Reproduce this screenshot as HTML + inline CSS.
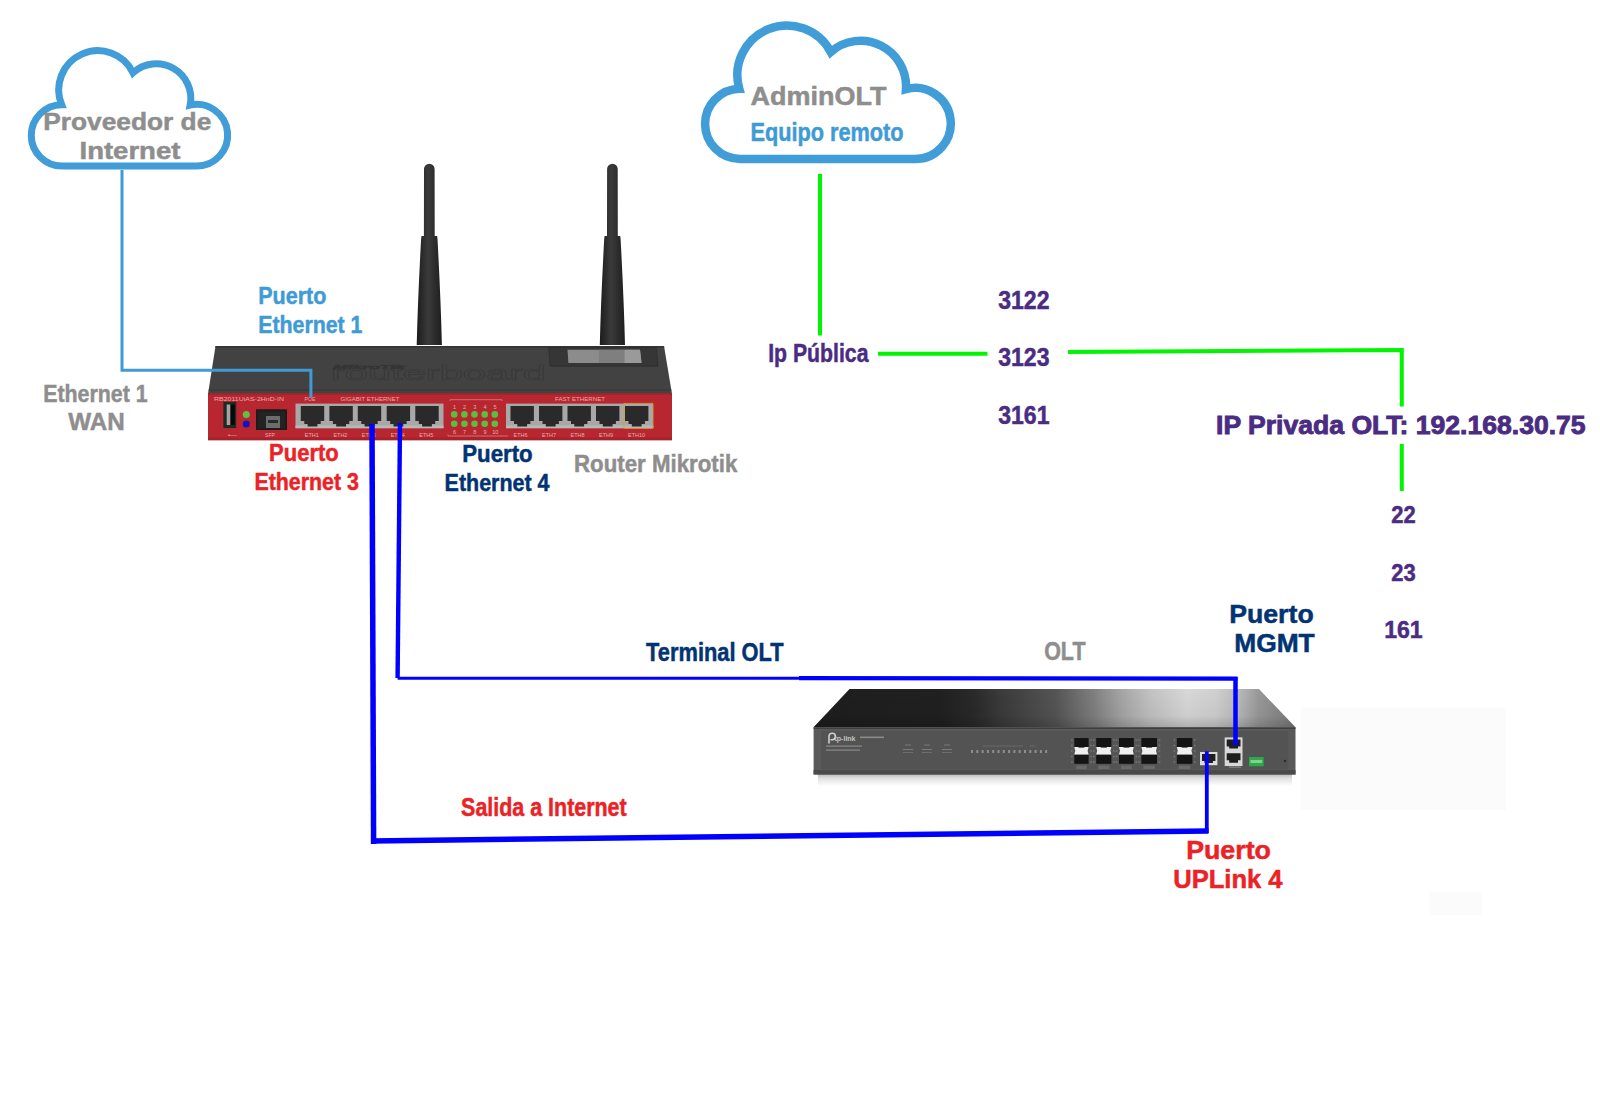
<!DOCTYPE html>
<html><head><meta charset="utf-8">
<style>
html,body{margin:0;padding:0;background:#fff;width:1600px;height:1100px;overflow:hidden}
svg{position:absolute;left:0;top:0;display:block}
text{font-family:"Liberation Sans",sans-serif;font-weight:bold}
.g{fill:#8e8e8e;stroke:#8e8e8e}.b{fill:#3f9bd6;stroke:#3f9bd6}.r{fill:#eb2226;stroke:#eb2226}.n{fill:#023372;stroke:#023372}.p{fill:#4a2c82;stroke:#4a2c82}
text.g,text.b,text.r,text.n,text.p{stroke-width:0.5}
</style></head>
<body>
<svg width="1600" height="1100" viewBox="0 0 1600 1100">
<defs>
<linearGradient id="ant" x1="0" x2="1" y1="0" y2="0">
<stop offset="0" stop-color="#1c1c1c"/><stop offset="0.45" stop-color="#3a3a3a"/><stop offset="1" stop-color="#1e1e1e"/>
</linearGradient>
<linearGradient id="oltTop" gradientUnits="userSpaceOnUse" x1="813" y1="0" x2="1296" y2="0">
<stop offset="0" stop-color="#1e1e1e"/><stop offset="0.263" stop-color="#202020"/><stop offset="0.335" stop-color="#2a2a2a"/><stop offset="0.387" stop-color="#3a3a3a"/><stop offset="0.503" stop-color="#555555"/><stop offset="0.582" stop-color="#808080"/><stop offset="0.64" stop-color="#a6a6a6"/><stop offset="0.698" stop-color="#c2c2c2"/><stop offset="0.774" stop-color="#d8d8d8"/><stop offset="0.834" stop-color="#d0d0d0"/><stop offset="0.884" stop-color="#b8b8b8"/><stop offset="0.923" stop-color="#999999"/><stop offset="1" stop-color="#7a7a7a"/>
</linearGradient>
<linearGradient id="oltTopV" x1="0" x2="0" y1="0" y2="1">
<stop offset="0" stop-color="#000" stop-opacity="0"/><stop offset="0.7" stop-color="#000" stop-opacity="0.05"/><stop offset="1" stop-color="#000" stop-opacity="0.18"/>
</linearGradient>
<linearGradient id="oltShadow" x1="0" x2="0" y1="0" y2="1">
<stop offset="0" stop-color="#b8b8b8"/><stop offset="0.35" stop-color="#e0e0e0"/><stop offset="1" stop-color="#fff"/>
</linearGradient>
</defs>
<!-- clouds -->
<path d="M62.20,166.00 A30.60,30.60 0 0 1 61.65,104.70 A39.10,39.10 0 0 1 132.98,72.74 A34.60,34.60 0 0 1 190.14,105.14 A30.80,30.80 0 1 1 196.40,166.00 Z" fill="none" stroke="#419dd7" stroke-width="7.0"/>
<path d="M740.10,158.95 A35.05,35.05 0 0 1 739.30,88.86 A49.55,49.55 0 0 1 830.71,51.96 A45.45,45.45 0 0 1 905.95,89.19 A35.50,35.50 0 1 1 915.25,158.95 Z" fill="none" stroke="#419dd7" stroke-width="8.5"/>


<!-- router -->
<g id="router">
<path d="M424.0,169 A5.3,5.3 0 0 1 434.6,169 L434.7,236 L437.1,236 L437.5,239 Q440.8,300 441.9,345 L416.7,345 Q417.8,300 421.1,239 L421.5,236 L423.9,236 Z" fill="url(#ant)"/>
<path d="M607.1,169 A5.3,5.3 0 0 1 617.7,169 L617.8,236 L620.2,236 L620.6,239 Q623.9,300 625.0,345 L599.8,345 Q600.9,300 604.2,239 L604.6,236 L607.0,236 Z" fill="url(#ant)"/>
<path d="M215.5,346 L664,346 L672,394 L208,394 Z" fill="#424242"/>
<path d="M215.5,346 L664,346 L664.3,347.5 L215.3,347.5 Z" fill="#333"/>
<path d="M208.8,389.5 L671.3,389.5 L671.5,390.7 L208.6,390.7 Z" fill="#383838"/>
<path d="M548.7,347.5 L656.5,347.5 L658,366.2 L550,366.2 Z" fill="#363636" stroke="#2e2e2e" stroke-width="0.8"/>
<path d="M567.5,349.8 L640,349.8 L641.5,363 L568.4,363 Z" fill="#8c8c8c"/>
<rect x="598.9" y="349.8" width="25.8" height="13.2" fill="#7f7f7f"/><path d="M624.7,349.8 L640,349.8 L641.5,363 L624.7,363 Z" fill="#9a9a9a"/>
<text x="331" y="379.5" font-size="21" textLength="215" lengthAdjust="spacingAndGlyphs" style="font-weight:normal" fill="#444" stroke="#393939" stroke-width="0.7">routerboard</text>
<text x="333" y="369" font-size="5.5" textLength="72" lengthAdjust="spacingAndGlyphs" font-style="italic" fill="#3a3a3a" stroke="#343434" stroke-width="0.5">MikroTik</text>
<rect x="208" y="393.5" width="464" height="46.7" fill="#b8272f"/>
<rect x="208" y="393.5" width="464" height="1.5" fill="#a92029"/>
<rect x="208" y="437.5" width="464" height="2.7" fill="#a6232b"/>
<rect x="223.4" y="401.9" width="12.8" height="26.1" fill="#1e2a22"/>
<rect x="226.7" y="404.5" width="3.8" height="20.5" fill="#a5a5a5"/>
<rect x="230.5" y="404.5" width="4.2" height="20.5" fill="#080808"/>
<circle cx="246.3" cy="414.6" r="3.5" fill="#5fbf45"/>
<circle cx="246.3" cy="424.1" r="3.5" fill="#1212c0"/>
<rect x="256" y="409.3" width="31" height="20.7" fill="#1c1c1c"/>
<rect x="258" y="411.5" width="27" height="16.5" fill="#232323"/>
<rect x="266" y="416" width="14" height="12" fill="#6c6c6c"/>
<rect x="268" y="420" width="10" height="3" fill="#2a2a2a"/>
<rect x="295.5" y="403.6" width="148" height="24.6" fill="#a8a8a8"/>
<rect x="295.5" y="425.5" width="148" height="2.7" fill="#b8b8b8"/>
<rect x="506" y="403.6" width="147.4" height="24.6" fill="#a8a8a8"/>
<rect x="506" y="425.5" width="147.4" height="2.7" fill="#b8b8b8"/>
<path d="M300.8,406 h23.4 v15 h-3.5 v3 h-3.3 v2.6 h-9.8 v-2.6 h-3.3 v-3 h-3.5 Z" fill="#2a2a2a"/>
<path d="M329.4,406 h23.4 v15 h-3.5 v3 h-3.3 v2.6 h-9.8 v-2.6 h-3.3 v-3 h-3.5 Z" fill="#2a2a2a"/>
<path d="M357.8,406 h23.4 v15 h-3.5 v3 h-3.3 v2.6 h-9.8 v-2.6 h-3.3 v-3 h-3.5 Z" fill="#2a2a2a"/>
<path d="M386.7,406 h23.4 v15 h-3.5 v3 h-3.3 v2.6 h-9.8 v-2.6 h-3.3 v-3 h-3.5 Z" fill="#2a2a2a"/>
<path d="M415.3,406 h23.4 v15 h-3.5 v3 h-3.3 v2.6 h-9.8 v-2.6 h-3.3 v-3 h-3.5 Z" fill="#2a2a2a"/>
<path d="M510.5,406 h23.4 v15 h-3.5 v3 h-3.3 v2.6 h-9.8 v-2.6 h-3.3 v-3 h-3.5 Z" fill="#2a2a2a"/>
<path d="M539.0,406 h23.4 v15 h-3.5 v3 h-3.3 v2.6 h-9.8 v-2.6 h-3.3 v-3 h-3.5 Z" fill="#2a2a2a"/>
<path d="M567.5,406 h23.4 v15 h-3.5 v3 h-3.3 v2.6 h-9.8 v-2.6 h-3.3 v-3 h-3.5 Z" fill="#2a2a2a"/>
<path d="M596.0,406 h23.4 v15 h-3.5 v3 h-3.3 v2.6 h-9.8 v-2.6 h-3.3 v-3 h-3.5 Z" fill="#2a2a2a"/>
<path d="M625.0,406 h23.4 v15 h-3.5 v3 h-3.3 v2.6 h-9.8 v-2.6 h-3.3 v-3 h-3.5 Z" fill="#2a2a2a"/>
<rect x="624" y="403.3" width="28.5" height="25" fill="none" stroke="#d8a028" stroke-width="0.8"/>
<circle cx="454.2" cy="414.4" r="3.3" fill="#5cbd43"/><circle cx="454.2" cy="423.7" r="3.3" fill="#5cbd43"/>
<circle cx="464.4" cy="414.4" r="3.3" fill="#5cbd43"/><circle cx="464.4" cy="423.7" r="3.3" fill="#5cbd43"/>
<circle cx="474.5" cy="414.4" r="3.3" fill="#5cbd43"/><circle cx="474.5" cy="423.7" r="3.3" fill="#5cbd43"/>
<circle cx="484.7" cy="414.4" r="3.3" fill="#5cbd43"/><circle cx="484.7" cy="423.7" r="3.3" fill="#5cbd43"/>
<circle cx="494.8" cy="414.4" r="3.3" fill="#5cbd43"/><circle cx="494.8" cy="423.7" r="3.3" fill="#5cbd43"/>
<text x="214" y="400.5" fill="#e7aaae" font-size="5.6" style="font-weight:normal" textLength="70" lengthAdjust="spacingAndGlyphs">RB2011UiAS-2HnD-IN</text>
<text x="304.5" y="400.5" fill="#e7aaae" font-size="5.6" style="font-weight:normal" textLength="11" lengthAdjust="spacingAndGlyphs">POE</text>
<text x="340.5" y="400.5" fill="#e7aaae" font-size="5.6" style="font-weight:normal" textLength="59" lengthAdjust="spacingAndGlyphs">GIGABIT ETHERNET</text>
<text x="555" y="400.5" fill="#e7aaae" font-size="5.6" style="font-weight:normal" textLength="50" lengthAdjust="spacingAndGlyphs">FAST ETHERNET</text>
<text x="304.8" y="437" fill="#e7aaae" font-size="5.6" style="font-weight:normal" textLength="14" lengthAdjust="spacingAndGlyphs">ETH1</text>
<text x="333.4" y="437" fill="#e7aaae" font-size="5.6" style="font-weight:normal" textLength="14" lengthAdjust="spacingAndGlyphs">ETH2</text>
<text x="361.8" y="437" fill="#e7aaae" font-size="5.6" style="font-weight:normal" textLength="14" lengthAdjust="spacingAndGlyphs">ETH3</text>
<text x="390.7" y="437" fill="#e7aaae" font-size="5.6" style="font-weight:normal" textLength="14" lengthAdjust="spacingAndGlyphs">ETH4</text>
<text x="419.3" y="437" fill="#e7aaae" font-size="5.6" style="font-weight:normal" textLength="14" lengthAdjust="spacingAndGlyphs">ETH5</text>
<text x="513.5" y="437" fill="#e7aaae" font-size="5.6" style="font-weight:normal" textLength="14" lengthAdjust="spacingAndGlyphs">ETH6</text>
<text x="542.0" y="437" fill="#e7aaae" font-size="5.6" style="font-weight:normal" textLength="14" lengthAdjust="spacingAndGlyphs">ETH7</text>
<text x="570.5" y="437" fill="#e7aaae" font-size="5.6" style="font-weight:normal" textLength="14" lengthAdjust="spacingAndGlyphs">ETH8</text>
<text x="599.0" y="437" fill="#e7aaae" font-size="5.6" style="font-weight:normal" textLength="14" lengthAdjust="spacingAndGlyphs">ETH9</text>
<text x="628.0" y="437" fill="#e7aaae" font-size="5.6" style="font-weight:normal" textLength="17" lengthAdjust="spacingAndGlyphs">ETH10</text>
<text x="228" y="437" fill="#e7aaae" font-size="5.6" style="font-weight:normal" textLength="9" lengthAdjust="spacingAndGlyphs">&#8226;&#8212;</text>
<text x="265" y="437" fill="#e7aaae" font-size="5.6" style="font-weight:normal" textLength="10" lengthAdjust="spacingAndGlyphs">SFP</text>
<text x="452.9" y="409.2" fill="#e7aaae" font-size="5.6" style="font-weight:normal">1</text>
<text x="452.9" y="433.5" fill="#e7aaae" font-size="5.6" style="font-weight:normal">6</text>
<text x="463.1" y="409.2" fill="#e7aaae" font-size="5.6" style="font-weight:normal">2</text>
<text x="463.1" y="433.5" fill="#e7aaae" font-size="5.6" style="font-weight:normal">7</text>
<text x="473.2" y="409.2" fill="#e7aaae" font-size="5.6" style="font-weight:normal">3</text>
<text x="473.2" y="433.5" fill="#e7aaae" font-size="5.6" style="font-weight:normal">8</text>
<text x="483.4" y="409.2" fill="#e7aaae" font-size="5.6" style="font-weight:normal">4</text>
<text x="483.4" y="433.5" fill="#e7aaae" font-size="5.6" style="font-weight:normal">9</text>
<text x="493.5" y="409.2" fill="#e7aaae" font-size="5.6" style="font-weight:normal">5</text>
<text x="492.2" y="433.5" fill="#e7aaae" font-size="5.6" style="font-weight:normal">10</text>
<path d="M450,401 V399.7 H502 V401" fill="none" stroke="#e0a0a4" stroke-width="0.6"/>
<path d="M448,434.5 V436 H508" fill="none" stroke="#e0a0a4" stroke-width="0.6"/>
</g>
<!-- OLT -->
<rect x="1300.7" y="707.5" width="205" height="102.5" fill="#fbfbfb"/>
<rect x="1429.5" y="891.8" width="52.3" height="23" fill="#fbfbfb"/>
<g id="olt">
<rect x="818" y="774" width="474" height="12" fill="url(#oltShadow)"/>
<path d="M849.5,689 L1259,689 L1295.5,727.3 L813.6,727.3 Z" fill="url(#oltTop)"/>
<path d="M849.5,689 L1259,689 L1295.5,727.3 L813.6,727.3 Z" fill="url(#oltTopV)"/>
<rect x="813.6" y="727.3" width="481.9" height="47.2" fill="#5a5a5a"/>
<rect x="813.6" y="727.3" width="481.9" height="1.6" fill="#3f3f3f"/>
<rect x="820.6" y="730.6" width="468" height="39" fill="#535353" stroke="#5e5e5e" stroke-width="0.6"/>
<rect x="813.6" y="770" width="481.9" height="4.5" fill="#4a4a4a"/>
<path d="M829,743.5 V736.5 A3.2,3.2 0 1 1 832.2,739.7 H830.5" fill="none" stroke="#cfcfcf" stroke-width="1.6"/><text x="834.5" y="741.2" font-size="6.5" fill="#c4c4c4" textLength="21" lengthAdjust="spacingAndGlyphs">tp-link</text>
<rect x="860" y="736.5" width="24" height="1.6" fill="#8a8a8a"/>
<rect x="826" y="745.5" width="36" height="1.2" fill="#8a8a8a"/>
<rect x="826" y="749.5" width="34" height="1.2" fill="#8a8a8a"/>
<rect x="905" y="744.5" width="6" height="1" fill="#7a7a7a"/>
<rect x="903" y="749" width="10" height="1" fill="#7a7a7a"/>
<rect x="903" y="752" width="10" height="1" fill="#6e6e6e"/>
<rect x="924" y="744.5" width="6" height="1" fill="#7a7a7a"/>
<rect x="922" y="749" width="10" height="1" fill="#7a7a7a"/>
<rect x="922" y="752" width="10" height="1" fill="#6e6e6e"/>
<rect x="944" y="744.5" width="6" height="1" fill="#7a7a7a"/>
<rect x="942" y="749" width="10" height="1" fill="#7a7a7a"/>
<rect x="942" y="752" width="10" height="1" fill="#6e6e6e"/>
<path d="M983,746 H1023 M1030,746 H1035" stroke="#777" stroke-width="0.6"/>
<rect x="971.0" y="750" width="2" height="3" fill="#8e8e8e"/>
<rect x="976.3" y="750" width="2" height="3" fill="#8e8e8e"/>
<rect x="981.6" y="750" width="2" height="3" fill="#8e8e8e"/>
<rect x="986.9" y="750" width="2" height="3" fill="#8e8e8e"/>
<rect x="992.2" y="750" width="2" height="3" fill="#8e8e8e"/>
<rect x="997.5" y="750" width="2" height="3" fill="#8e8e8e"/>
<rect x="1002.8" y="750" width="2" height="3" fill="#8e8e8e"/>
<rect x="1008.1" y="750" width="2" height="3" fill="#8e8e8e"/>
<rect x="1013.4" y="750" width="2" height="3" fill="#8e8e8e"/>
<rect x="1018.7" y="750" width="2" height="3" fill="#8e8e8e"/>
<rect x="1024.0" y="750" width="2" height="3" fill="#8e8e8e"/>
<rect x="1029.3" y="750" width="2" height="3" fill="#8e8e8e"/>
<rect x="1034.6" y="750" width="2" height="3" fill="#8e8e8e"/>
<rect x="1039.9" y="750" width="2" height="3" fill="#8e8e8e"/>
<rect x="1045.2" y="750" width="2" height="3" fill="#8e8e8e"/>
<rect x="1070.3" y="736.5" width="22.3" height="29" fill="#555"/>
<rect x="1071.1" y="739.3" width="1.5" height="1.4" fill="#7a7a7a"/>
<rect x="1090.3" y="739.3" width="1.5" height="1.4" fill="#7a7a7a"/>
<rect x="1071.1" y="744.8" width="1.5" height="1.4" fill="#7a7a7a"/>
<rect x="1090.3" y="744.8" width="1.5" height="1.4" fill="#7a7a7a"/>
<rect x="1071.1" y="750.3" width="1.5" height="1.4" fill="#7a7a7a"/>
<rect x="1090.3" y="750.3" width="1.5" height="1.4" fill="#7a7a7a"/>
<rect x="1071.1" y="755.8" width="1.5" height="1.4" fill="#7a7a7a"/>
<rect x="1090.3" y="755.8" width="1.5" height="1.4" fill="#7a7a7a"/>
<rect x="1071.1" y="761.3" width="1.5" height="1.4" fill="#7a7a7a"/>
<rect x="1090.3" y="761.3" width="1.5" height="1.4" fill="#7a7a7a"/>
<rect x="1074.3" y="738" width="14.3" height="9" fill="#141414"/>
<rect x="1074.3" y="754.5" width="14.3" height="9.3" fill="#141414"/>
<path d="M1074.3,747 H1088.6 L1087.6,750.7 L1088.6,754.5 H1074.3 L1075.3,750.7 Z" fill="#efefef"/>
<rect x="1078.4" y="746" width="6" height="1.6" fill="#141414"/>
<rect x="1076.3" y="765.5" width="10.3" height="3.5" fill="#6a6a6a"/>
<rect x="1092.2" y="736.5" width="23.2" height="29" fill="#555"/>
<rect x="1093.0" y="739.3" width="1.5" height="1.4" fill="#7a7a7a"/>
<rect x="1113.1" y="739.3" width="1.5" height="1.4" fill="#7a7a7a"/>
<rect x="1093.0" y="744.8" width="1.5" height="1.4" fill="#7a7a7a"/>
<rect x="1113.1" y="744.8" width="1.5" height="1.4" fill="#7a7a7a"/>
<rect x="1093.0" y="750.3" width="1.5" height="1.4" fill="#7a7a7a"/>
<rect x="1113.1" y="750.3" width="1.5" height="1.4" fill="#7a7a7a"/>
<rect x="1093.0" y="755.8" width="1.5" height="1.4" fill="#7a7a7a"/>
<rect x="1113.1" y="755.8" width="1.5" height="1.4" fill="#7a7a7a"/>
<rect x="1093.0" y="761.3" width="1.5" height="1.4" fill="#7a7a7a"/>
<rect x="1113.1" y="761.3" width="1.5" height="1.4" fill="#7a7a7a"/>
<rect x="1096.2" y="738" width="15.2" height="9" fill="#141414"/>
<rect x="1096.2" y="754.5" width="15.2" height="9.3" fill="#141414"/>
<path d="M1096.2,747 H1111.4 L1110.4,750.7 L1111.4,754.5 H1096.2 L1097.2,750.7 Z" fill="#efefef"/>
<rect x="1100.8" y="746" width="6" height="1.6" fill="#141414"/>
<rect x="1098.2" y="765.5" width="11.2" height="3.5" fill="#6a6a6a"/>
<rect x="1115.0" y="736.5" width="22.8" height="29" fill="#555"/>
<rect x="1115.8" y="739.3" width="1.5" height="1.4" fill="#7a7a7a"/>
<rect x="1135.5" y="739.3" width="1.5" height="1.4" fill="#7a7a7a"/>
<rect x="1115.8" y="744.8" width="1.5" height="1.4" fill="#7a7a7a"/>
<rect x="1135.5" y="744.8" width="1.5" height="1.4" fill="#7a7a7a"/>
<rect x="1115.8" y="750.3" width="1.5" height="1.4" fill="#7a7a7a"/>
<rect x="1135.5" y="750.3" width="1.5" height="1.4" fill="#7a7a7a"/>
<rect x="1115.8" y="755.8" width="1.5" height="1.4" fill="#7a7a7a"/>
<rect x="1135.5" y="755.8" width="1.5" height="1.4" fill="#7a7a7a"/>
<rect x="1115.8" y="761.3" width="1.5" height="1.4" fill="#7a7a7a"/>
<rect x="1135.5" y="761.3" width="1.5" height="1.4" fill="#7a7a7a"/>
<rect x="1119.0" y="738" width="14.8" height="9" fill="#141414"/>
<rect x="1119.0" y="754.5" width="14.8" height="9.3" fill="#141414"/>
<path d="M1119.0,747 H1133.8 L1132.8,750.7 L1133.8,754.5 H1119.0 L1120.0,750.7 Z" fill="#efefef"/>
<rect x="1123.4" y="746" width="6" height="1.6" fill="#141414"/>
<rect x="1121.0" y="765.5" width="10.8" height="3.5" fill="#6a6a6a"/>
<rect x="1137.4" y="736.5" width="23.6" height="29" fill="#555"/>
<rect x="1138.2" y="739.3" width="1.5" height="1.4" fill="#7a7a7a"/>
<rect x="1158.7" y="739.3" width="1.5" height="1.4" fill="#7a7a7a"/>
<rect x="1138.2" y="744.8" width="1.5" height="1.4" fill="#7a7a7a"/>
<rect x="1158.7" y="744.8" width="1.5" height="1.4" fill="#7a7a7a"/>
<rect x="1138.2" y="750.3" width="1.5" height="1.4" fill="#7a7a7a"/>
<rect x="1158.7" y="750.3" width="1.5" height="1.4" fill="#7a7a7a"/>
<rect x="1138.2" y="755.8" width="1.5" height="1.4" fill="#7a7a7a"/>
<rect x="1158.7" y="755.8" width="1.5" height="1.4" fill="#7a7a7a"/>
<rect x="1138.2" y="761.3" width="1.5" height="1.4" fill="#7a7a7a"/>
<rect x="1158.7" y="761.3" width="1.5" height="1.4" fill="#7a7a7a"/>
<rect x="1141.4" y="738" width="15.6" height="9" fill="#141414"/>
<rect x="1141.4" y="754.5" width="15.6" height="9.3" fill="#141414"/>
<path d="M1141.4,747 H1157.0 L1156.0,750.7 L1157.0,754.5 H1141.4 L1142.4,750.7 Z" fill="#efefef"/>
<rect x="1146.2" y="746" width="6" height="1.6" fill="#141414"/>
<rect x="1143.4" y="765.5" width="11.6" height="3.5" fill="#6a6a6a"/>
<rect x="1172.8" y="736.5" width="23.6" height="29" fill="#555"/>
<rect x="1173.6" y="739.3" width="1.5" height="1.4" fill="#7a7a7a"/>
<rect x="1194.1" y="739.3" width="1.5" height="1.4" fill="#7a7a7a"/>
<rect x="1173.6" y="744.8" width="1.5" height="1.4" fill="#7a7a7a"/>
<rect x="1194.1" y="744.8" width="1.5" height="1.4" fill="#7a7a7a"/>
<rect x="1173.6" y="750.3" width="1.5" height="1.4" fill="#7a7a7a"/>
<rect x="1194.1" y="750.3" width="1.5" height="1.4" fill="#7a7a7a"/>
<rect x="1173.6" y="755.8" width="1.5" height="1.4" fill="#7a7a7a"/>
<rect x="1194.1" y="755.8" width="1.5" height="1.4" fill="#7a7a7a"/>
<rect x="1173.6" y="761.3" width="1.5" height="1.4" fill="#7a7a7a"/>
<rect x="1194.1" y="761.3" width="1.5" height="1.4" fill="#7a7a7a"/>
<rect x="1176.8" y="738" width="15.6" height="9" fill="#141414"/>
<rect x="1176.8" y="754.5" width="15.6" height="9.3" fill="#141414"/>
<path d="M1176.8,747 H1192.4 L1191.4,750.7 L1192.4,754.5 H1176.8 L1177.8,750.7 Z" fill="#efefef"/>
<rect x="1181.6" y="746" width="6" height="1.6" fill="#141414"/>
<rect x="1178.8" y="765.5" width="11.6" height="3.5" fill="#6a6a6a"/>
<rect x="1200" y="752" width="17.4" height="13.2" fill="#dcdcdc"/>
<path d="M1202,754 h13.4 v7 h-2.5 v2 h-8.4 v-2 h-2.5 Z" fill="#1e1e1e"/>
<rect x="1224.7" y="737.4" width="17.8" height="28.6" fill="#d8d8d8"/>
<path d="M1226.7,739.6 h13.8 v7 h-2.5 v2 h-8.8 v-2 h-2.5 Z" fill="#1e1e1e"/>
<path d="M1226.7,753.2 h13.8 v7 h-2.5 v2.5 h-8.8 v-2.5 h-2.5 Z" fill="#1e1e1e"/>
<rect x="1229" y="766.5" width="12" height="1.2" fill="#8a8a8a"/>
<rect x="1249" y="757" width="14.7" height="9.3" fill="#2da84a"/>
<rect x="1250.5" y="760" width="11.7" height="3" fill="#7ad48a"/>
<circle cx="1285" cy="761" r="1.2" fill="#2a2a2a"/>
</g>

<!-- thin blue line ISP -> eth1 -->
<path d="M122,170 V370.2 H310.9 V397.7" fill="none" stroke="#3f9bd6" stroke-width="3"/>
<!-- green lines -->
<g stroke="#00f500" stroke-width="4" fill="none">
<path d="M820,174 V335.5"/>
<path d="M878,353.75 H987.5"/>
<path d="M1068,351.9 L1401.8,349.9 V406.6"/>
<path d="M1401.8,444 V491"/>
</g>

<!-- thick blue lines -->
<g stroke="#0000ff" fill="none">
<path d="M400,423 L397.6,678" stroke-width="4.4"/>
<path d="M397.6,678.2 L799,678.2" stroke-width="3"/>
<path d="M799,678.2 L1237.5,678.6" stroke-width="4.2"/>
<path d="M1235.5,677 V745" stroke-width="4.5"/>
<path d="M372,424 L373.6,844" stroke-width="5.5"/>
<path d="M371,841 L1208.5,831" stroke-width="5.5"/>
<path d="M1206.8,833 V751.3" stroke-width="3.8"/>
</g>

<!-- texts -->
<text class="g" x="43.2" y="130.4" font-size="24.8" textLength="168.1" lengthAdjust="spacingAndGlyphs">Proveedor de</text>
<text class="g" x="79.5" y="159.0" font-size="24.8" textLength="100.9" lengthAdjust="spacingAndGlyphs">Internet</text>
<text class="g" x="750.5" y="105.1" font-size="26.7" textLength="136.0" lengthAdjust="spacingAndGlyphs">AdminOLT</text>
<text class="b" x="750.4" y="140.7" font-size="25.7" textLength="153.2" lengthAdjust="spacingAndGlyphs">Equipo remoto</text>
<text class="b" x="258.2" y="303.8" font-size="24.8" textLength="68.2" lengthAdjust="spacingAndGlyphs">Puerto</text>
<text class="b" x="258.2" y="333.2" font-size="24.8" textLength="104.3" lengthAdjust="spacingAndGlyphs">Ethernet 1</text>
<text class="g" x="43.2" y="402.1" font-size="24.8" textLength="104.5" lengthAdjust="spacingAndGlyphs">Ethernet 1</text>
<text class="g" x="68.2" y="429.8" font-size="24.8" textLength="56.5" lengthAdjust="spacingAndGlyphs">WAN</text>
<text class="r" x="269.1" y="460.5" font-size="24.8" textLength="69.6" lengthAdjust="spacingAndGlyphs">Puerto</text>
<text class="r" x="254.4" y="489.8" font-size="24.8" textLength="104.5" lengthAdjust="spacingAndGlyphs">Ethernet 3</text>
<text class="n" x="462.2" y="461.8" font-size="24.8" textLength="70.5" lengthAdjust="spacingAndGlyphs">Puerto</text>
<text class="n" x="444.6" y="490.8" font-size="24.8" textLength="104.9" lengthAdjust="spacingAndGlyphs">Ethernet 4</text>
<text class="g" x="574.0" y="471.5" font-size="24.8" textLength="163.3" lengthAdjust="spacingAndGlyphs">Router Mikrotik</text>
<text class="p" x="768.2" y="361.8" font-size="25.5" textLength="100.3" lengthAdjust="spacingAndGlyphs">Ip Pública</text>
<text class="p" x="998.2" y="309.1" font-size="25.3" textLength="51.3" lengthAdjust="spacingAndGlyphs">3122</text>
<text class="p" x="998.2" y="365.8" font-size="25.3" textLength="51.3" lengthAdjust="spacingAndGlyphs">3123</text>
<text class="p" x="998.2" y="424.1" font-size="25.3" textLength="51.3" lengthAdjust="spacingAndGlyphs">3161</text>
<text class="p" style="stroke-width:0.9" x="1216.1" y="433.8" font-size="25.8" textLength="369.5" lengthAdjust="spacingAndGlyphs">IP Privada OLT: 192.168.30.75</text>
<text class="p" x="1391.2" y="522.8" font-size="24.4" textLength="24.4" lengthAdjust="spacingAndGlyphs">22</text>
<text class="p" x="1391.2" y="580.8" font-size="24.4" textLength="24.4" lengthAdjust="spacingAndGlyphs">23</text>
<text class="p" x="1384.2" y="637.8" font-size="24.4" textLength="38.5" lengthAdjust="spacingAndGlyphs">161</text>
<text class="n" x="1229.2" y="622.8" font-size="25.7" textLength="84.5" lengthAdjust="spacingAndGlyphs">Puerto</text>
<text class="n" x="1234.2" y="651.8" font-size="25.7" textLength="80.5" lengthAdjust="spacingAndGlyphs">MGMT</text>
<text class="n" x="646.1" y="660.5" font-size="25.5" textLength="137.6" lengthAdjust="spacingAndGlyphs">Terminal OLT</text>
<text class="g" x="1044.2" y="660.1" font-size="25.2" textLength="41.3" lengthAdjust="spacingAndGlyphs">OLT</text>
<text class="r" x="461.1" y="815.8" font-size="25.7" textLength="165.6" lengthAdjust="spacingAndGlyphs">Salida a Internet</text>
<text class="r" x="1186.2" y="858.8" font-size="26.1" textLength="84.7" lengthAdjust="spacingAndGlyphs">Puerto</text>
<text class="r" x="1173.2" y="887.8" font-size="26.1" textLength="109.4" lengthAdjust="spacingAndGlyphs">UPLink 4</text>
</svg>
</body></html>
